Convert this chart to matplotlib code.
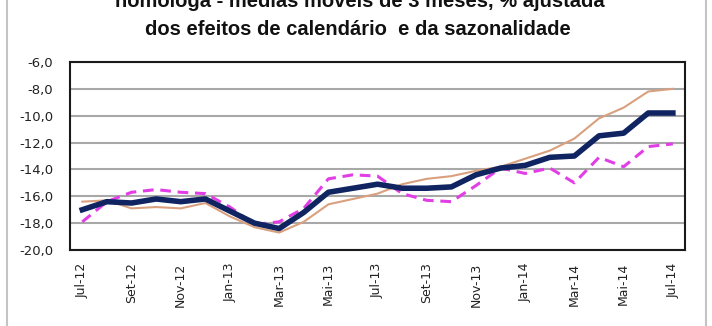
import numpy as np
import matplotlib
matplotlib.use("Agg")
import matplotlib.pyplot as plt
from matplotlib.lines import Line2D

months = ["Jul-12", "Ago-12", "Set-12", "Out-12", "Nov-12", "Dez-12",
          "Jan-13", "Fev-13", "Mar-13", "Abr-13", "Mai-13", "Jun-13",
          "Jul-13", "Ago-13", "Set-13", "Out-13", "Nov-13", "Dez-13",
          "Jan-14", "Fev-14", "Mar-14", "Abr-14", "Mai-14", "Jun-14", "Jul-14"]

navy = [-17.0, -16.4, -16.5, -16.2, -16.4, -16.2, -17.1, -18.0, -18.4, -17.2,
        -15.7, -15.4, -15.1, -15.4, -15.4, -15.3, -14.4, -13.9, -13.7, -13.1,
        -13.0, -11.5, -11.3, -9.8, -9.8]
tan = [-16.4, -16.3, -16.9, -16.8, -16.9, -16.5, -17.5, -18.3, -18.7, -17.9,
       -16.6, -16.2, -15.8, -15.1, -14.7, -14.5, -14.1, -13.8, -13.2, -12.6,
       -11.7, -10.2, -9.4, -8.2, -8.0]
magenta = [-17.9, -16.4, -15.7, -15.5, -15.7, -15.8, -16.8, -18.1, -17.9, -16.9,
           -14.7, -14.4, -14.5, -15.8, -16.3, -16.4, -15.2, -13.9, -14.3, -13.9,
           -15.0, -13.1, -13.8, -12.3, -12.1]

yticks = [-6, -8, -10, -12, -14, -16, -18, -20]

fig = plt.figure(figsize=(7.12, 3.26), dpi=100)
ax = fig.add_axes([0.0983, 0.233, 0.864, 0.577])

x = np.arange(len(months))
ax.plot(x, tan, color="#d9a07e", lw=1.5, zorder=3)
ax.plot(x, magenta, color="#e23ee6", lw=2.2, ls=(0, (3.5, 2.2)), zorder=4)
ax.plot(x, navy, color="#0f2460", lw=4, zorder=5)

ax.set_xlim(-0.5, len(months) - 0.5)
ax.set_ylim(-20, -6)
ax.set_yticks(yticks)
ax.set_yticklabels([f"{v:.1f}".replace(".", ",") for v in yticks],
                   fontsize=9.5, color="#222222")
ax.set_xticks(x[::2])
ax.set_xticklabels(months[::2], rotation=90, fontsize=9, color="#222222")
ax.tick_params(axis="both", length=0)
ax.tick_params(axis="y", pad=12)
ax.tick_params(axis="x", pad=9)
ax.grid(axis="y", color="#a8a8a8", lw=1.5)
ax.set_axisbelow(True)
for s in ax.spines.values():
    s.set_color("#1a1a1a")
    s.set_linewidth(1.5)

fig.text(0.506, 0.979, "homóloga - médias móveis de 3 meses, % ajustada",
         ha="center", va="baseline", fontsize=14.5, fontweight="bold",
         family="Liberation Sans", color="#111111")
fig.text(0.502, 0.893, "dos efeitos de calendário  e da sazonalidade",
         ha="center", va="baseline", fontsize=14.5, fontweight="bold",
         family="Liberation Sans", color="#111111")

for xf in (7 / 712, 706 / 712):
    fig.add_artist(Line2D([xf, xf], [0, 1], transform=fig.transFigure,
                          color="#c4c4c4", lw=1.5))

fig.savefig("out.png", dpi=100)
